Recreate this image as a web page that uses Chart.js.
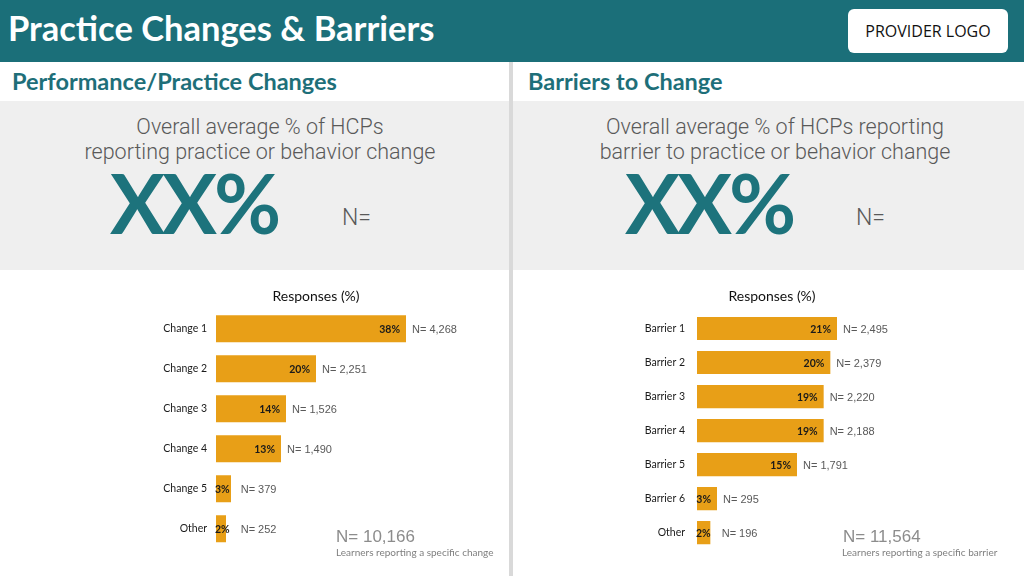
<!DOCTYPE html>
<html>
<head>
<meta charset="utf-8">
<script src="https://cdn.jsdelivr.net/npm/chart.js@4/dist/chart.umd.min.js"></script>
<style>
  body { margin: 0; width: 1024px; height: 576px; position: relative; overflow: hidden; background: #fff; font-family: Lato, sans-serif; }
  .abs { position: absolute; white-space: nowrap; }
  #header { left: 0; top: 0; width: 1024px; height: 62px; background: #1b6f79; }
  #title { left: 8px; top: 7px; font: 700 34.5px Lato; color: #fff; }
  #logo { left: 848px; top: 9px; width: 160px; height: 44px; background: #fff; border-radius: 6px; font: 400 16px "Open Sans"; color: #111; text-align: center; line-height: 44px; }
  .sub { top: 67px; font: 700 23.5px Lato; color: #1e6f79; }
  .panel { top: 101px; height: 169px; background: #efefef; }
  #divider { left: 509px; top: 62px; width: 4px; height: 514px; background: #d9d9d9; }
  .lead { top: 114px; width: 510px; text-align: center; font: 300 21.5px Roboto; color: #595959; line-height: 25px; }
  .big { top: 153px; font: 700 82px Lato; color: #1d737c; letter-spacing: -3px; }
  .neq { top: 204px; font: 300 23px Roboto; color: #595959; }
  .total { top: 527px; font: 300 17px "Liberation Sans"; color: #8c8c8c; }
  .note { top: 546px; font: 400 10px Lato; color: #7f7f7f; }
  canvas { position: absolute; }
</style>
</head>
<body>
<div class="abs" id="header"></div>
<div class="abs" id="title">Practice Changes &amp; Barriers</div>
<div class="abs" id="logo">PROVIDER LOGO</div>
<div class="abs sub" style="left:12px">Performance/Practice Changes</div>
<div class="abs sub" style="left:528px">Barriers to Change</div>
<div class="abs panel" style="left:0;width:509px"></div>
<div class="abs panel" style="left:513px;width:511px"></div>
<div class="abs" id="divider"></div>
<div class="abs lead" style="left:5px">Overall average % of HCPs<br>reporting practice or behavior change</div>
<div class="abs lead" style="left:520px">Overall average % of HCPs reporting<br>barrier to practice or behavior change</div>
<div class="abs big" style="left:110px">XX%</div>
<div class="abs big" style="left:625px">XX%</div>
<div class="abs neq" style="left:342px">N=</div>
<div class="abs neq" style="left:856px">N=</div>

<canvas id="changes" style="left:116px;top:280px" width="400" height="284"></canvas>
<canvas id="barriers" style="left:607px;top:280px" width="330" height="288"></canvas>

<div class="abs total" id="changeTotal" style="left:336px"></div>
<div class="abs note" style="left:336px">Learners reporting a specific change</div>
<div class="abs total" id="barrierTotal" style="left:843px"></div>
<div class="abs note" style="left:842px">Learners reporting a specific barrier</div>

<script>
let changeLabels = ["Change 1", "Change 2", "Change 3", "Change 4", "Change 5", "Other"];
let changePct = [38, 20, 14, 13, 3, 2];
let changeN = [4268, 2251, 1526, 1490, 379, 252];
let changeTotal = 10166;

let barrierLabels = ["Barrier 1", "Barrier 2", "Barrier 3", "Barrier 4", "Barrier 5", "Barrier 6", "Other"];
let barrierPct = [21, 20, 19, 19, 15, 3, 2];
let barrierN = [2495, 2379, 2220, 2188, 1791, 295, 196];
let barrierTotal = 11564;

document.getElementById("changeTotal").textContent = "N= " + changeTotal.toLocaleString("en-US");
document.getElementById("barrierTotal").textContent = "N= " + barrierTotal.toLocaleString("en-US");

// percent inside the bar end, N= count after it
let barLabels = {
  id: "barLabels",
  afterDatasetsDraw(chart) {
    let ctx = chart.ctx;
    let counts = chart.options.plugins.barLabels.counts;
    let meta = chart.getDatasetMeta(0);
    ctx.save();
    ctx.textBaseline = "middle";
    ctx.textAlign = "left";
    meta.data.forEach((bar, i) => {
      let pct = chart.data.datasets[0].data[i] + "%";
      ctx.font = "700 10.5px Lato";
      ctx.fillStyle = "#1a1a1a";
      let w = ctx.measureText(pct).width;
      let px = Math.max(bar.x - 6 - w, bar.base - 1);
      ctx.fillText(pct, px, bar.y + 1);
      ctx.font = "11px 'Liberation Sans'";
      ctx.fillStyle = "#595959";
      let nx = Math.max(bar.x + 6, px + w + 11);
      ctx.fillText("N= " + counts[i].toLocaleString("en-US"), nx, bar.y + 1);
    });
    ctx.restore();
  },
};

function makeChart(id, labels, values, counts, max, axisWidth, tickPad, barPct, titlePad) {
  return new Chart(document.getElementById(id), {
    type: "bar",
    data: {
      labels: labels,
      datasets: [
        {
          data: values,
          backgroundColor: "#e89f17",
          categoryPercentage: 1,
          barPercentage: barPct,
        },
      ],
    },
    options: {
      indexAxis: "y",
      responsive: false,
      animation: false,
      scales: {
        x: { display: false, min: 0, max: max },
        y: {
          grid: { display: false, drawTicks: false },
          border: { display: false },
          ticks: { padding: tickPad, color: "#1a1a1a", font: { family: "Lato", size: 10.5 } },
          afterFit: (scale) => { scale.width = axisWidth; },
        },
      },
      plugins: {
        legend: { display: false },
        tooltip: { enabled: false },
        title: {
          display: true,
          text: "Responses (%)",
          color: "#111",
          font: { family: "Lato", size: 14, weight: "normal" },
          padding: { top: 8, bottom: titlePad },
        },
        barLabels: { counts: counts },
      },
    },
    plugins: [barLabels],
  });
}

makeChart("changes", changeLabels, changePct, changeN, 60, 100, 9, 0.675, 4);
makeChart("barriers", barrierLabels, barrierPct, barrierN, 36, 90, 12, 0.68, 6.7);
</script>
</body>
</html>
